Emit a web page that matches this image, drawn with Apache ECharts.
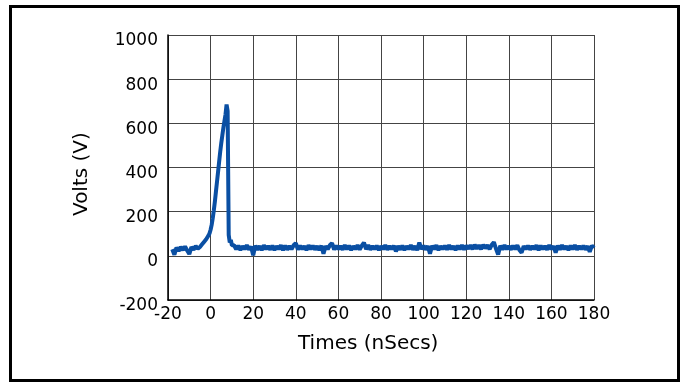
<!DOCTYPE html>
<html>
<head>
<meta charset="utf-8">
<script src="https://cdn.jsdelivr.net/npm/echarts@6/dist/echarts.min.js"></script>
<style>
  html, body { margin: 0; padding: 0; background: #fff; }
  #chart { width: 684px; height: 383px; }
</style>
</head>
<body>
<div id="chart"></div>
<script>
// sample times (ns) and readings (V)
const preStart = -18, preStep = 1
const preVolts = [30, 5, 38, 22, 40, 26, 42, 24, 8, 40, 28, 44, 32]

const pulseStart = -5, pulseStep = 0.5
const pulseVolts = [
  40, 48, 52, 58, 64, 70, 76, 84, 92, 102,
  118, 140, 170, 205, 245, 290, 335, 380, 425, 470,
  510, 545, 580, 610, 640, 685, 655, 95, 60, 72, 48
]

const postStart = 11, postStep = 1
const postVolts = [
  48, 30, 46, 26, 44, 30, 48, 28, 42, 2,
  46, 28, 44, 26, 48, 30, 44, 28, 46, 26,
  44, 30, 48, 26, 46, 28, 44, 30, 48, 58,
  28, 46, 30, 44, 26, 48, 30, 46, 28, 44,
  26, 46, 10, 44, 30, 48, 58, 28, 46, 30,
  44, 28, 48, 30, 46, 26, 44, 30, 48, 28,
  46, 60, 30, 48, 28, 44, 30, 46, 26, 44,
  30, 48, 28, 44, 30, 46, 20, 44, 28, 46,
  26, 44, 30, 48, 28, 44, 26, 60, 30, 46,
  28, 44, 10, 46, 30, 48, 26, 44, 30, 46,
  28, 48, 30, 44, 26, 46, 30, 48, 28, 46,
  32, 48, 30, 50, 32, 48, 30, 50, 34, 48,
  30, 50, 62, 32, 6, 46, 28, 48, 30, 44,
  28, 46, 30, 48, 26, 14, 44, 30, 46, 28,
  44, 30, 48, 26, 46, 30, 44, 28, 48, 30,
  44, 14, 46, 28, 48, 30, 44, 26, 46, 30,
  48, 28, 44, 30, 46, 28, 44, 18, 46, 36
]

const xMin = -20, xMax = 180, xStep = 20
const yMin = -200, yMax = 1000, yStep = 200

function toPoints(start, step, vals) {
  return vals.map((v, i) => [start + i * step, v])
}
const trace = []
  .concat(toPoints(preStart, preStep, preVolts))
  .concat(toPoints(pulseStart, pulseStep, pulseVolts))
  .concat(toPoints(postStart, postStep, postVolts))

const font = 'DejaVu Sans'
const chart = echarts.init(document.getElementById('chart'), null, { renderer: 'canvas' })

const option = {
  animation: false,
  backgroundColor: '#fff',
  grid: { left: 168, right: 90, top: 35, bottom: 83 },
  xAxis: {
    type: 'value',
    min: xMin, max: xMax, interval: xStep,
    axisLine: { onZero: false, lineStyle: { color: '#000', width: 1.5 } },
    axisTick: { show: false },
    splitLine: { lineStyle: { color: '#444', width: 1 } },
    axisLabel: {
      color: '#000', fontFamily: font, fontSize: 17, margin: 6,
      formatter: v => String(v)
    }
  },
  yAxis: {
    type: 'value',
    min: yMin, max: yMax, interval: yStep,
    axisLine: { show: true, onZero: false, lineStyle: { color: '#000', width: 1.5 } },
    axisTick: { show: false },
    splitLine: { lineStyle: { color: '#444', width: 1 } },
    axisLabel: {
      color: '#000', fontFamily: font, fontSize: 17, margin: 10,
      verticalAlign: 'top', lineHeight: 12,
      formatter: v => String(v)
    }
  },
  graphic: [
    {
      type: 'rect',
      shape: { x: 10.5, y: 6.5, width: 668, height: 374 },
      style: { fill: 'none', stroke: '#000', lineWidth: 3 },
      silent: true
    },
    {
      type: 'text',
      left: 298, top: 334,
      style: { text: 'Times (nSecs)', font: '20px "DejaVu Sans"', fill: '#000' },
      silent: true
    },
    {
      type: 'text',
      rotation: Math.PI / 2,
      x: 72, y: 216,
      style: { text: 'Volts (V)', font: '20px "DejaVu Sans"', fill: '#000' },
      silent: true
    }
  ],
  series: [
    {
      type: 'line',
      data: trace,
      showSymbol: false,
      lineStyle: { color: '#0a4fa3', width: 4 },
      z: 3
    }
  ]
}
chart.setOption(option)
</script>
</body>
</html>
